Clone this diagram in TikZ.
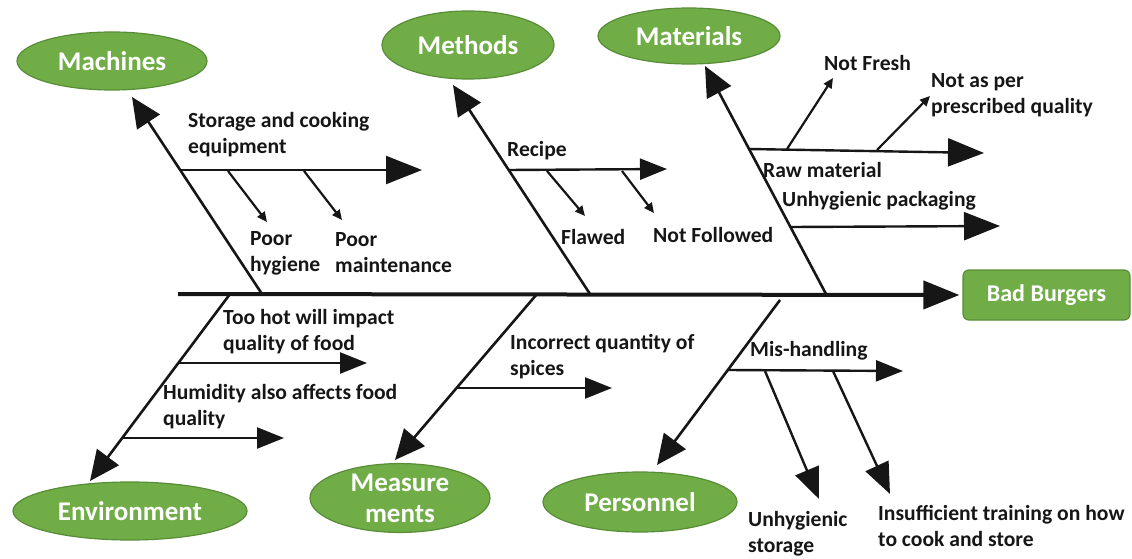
\documentclass[tikz,border=0pt]{standalone}
\usepackage{fontspec}
\setmainfont{Carlito}
\usetikzlibrary{arrows.meta,shapes.geometric}
\definecolor{leaf}{RGB}{112,173,71}
\definecolor{leafedge}{RGB}{88,140,55}
\definecolor{ink}{RGB}{22,22,22}

\tikzset{
  cat/.style={ellipse, fill=leaf, draw=leafedge, line width=1.2pt, inner sep=0pt,
    text=white, font=\fontsize{27}{31}\selectfont\bfseries},
  effect/.style={rectangle, rounded corners=6pt, fill=leaf, draw=leafedge, line width=1.2pt,
    minimum width=167pt, minimum height=50pt, inner sep=0pt,
    text=white, font=\fontsize{24}{28}\selectfont\bfseries},
  spine/.style={draw=ink, line width=4pt, -{Triangle[length=36pt,width=28pt]}},
  bone/.style={draw=ink, line width=2.6pt, -{Triangle[length=30pt,width=27pt]}},
  twig/.style={draw=ink, line width=2.4pt, -{Triangle[length=27pt,width=21pt]}},
  bigtwig/.style={draw=ink, line width=2.4pt, -{Triangle[length=36pt,width=28pt]}},
  droptwig/.style={draw=ink, line width=2.4pt, -{Triangle[length=31pt,width=25pt]}},
  sprig/.style={draw=ink, line width=2.2pt, -{Triangle[length=10pt,width=9pt]}},
  note/.style={inner sep=0pt, anchor=west, align=left, text=ink,
    font=\fontsize{21.6}{26}\selectfont\bfseries}
}

\begin{document}
\begin{tikzpicture}[x=1pt,y=-1pt]
\useasboundingbox (0,0) rectangle (1132,559);

% category ellipses and the effect box
\node[cat, minimum width=190pt, minimum height=58pt] (machines) at (112,61) {Machines};
\node[cat, minimum width=172pt, minimum height=68pt] (methods) at (468,45) {Methods};
\node[cat, minimum width=182pt, minimum height=56pt] (materials) at (689,36) {Materials};
\node[cat, minimum width=234pt, minimum height=58pt] (environment) at (130,511) {Environment};
\node[cat, minimum width=180pt, minimum height=68pt, align=center] (measurements) at (400,498) {Measure\\ments};
\node[cat, minimum width=194pt, minimum height=60pt] (personnel) at (640,502) {Personnel};
\node[effect] (burgers) at (1046.5,295) {Bad Burgers};

% spine
\coordinate (tail) at (178,294);
\draw[spine] (tail) -- ([xshift=-3pt]burgers.west);

% main bones: roots on the spine, tips under/over the ellipses
\coordinate (machRoot) at (262,294);  \coordinate (machTip) at (132,97);
\coordinate (methRoot) at (590,294);  \coordinate (methTip) at (453,85);
\coordinate (matRoot)  at (826,294);  \coordinate (matTip)  at (705,66);
\coordinate (envRoot)  at (230,294);  \coordinate (envTip)  at (90,481);
\coordinate (measRoot) at (537,294);  \coordinate (measTip) at (395,460);
\coordinate (persRoot) at (780,300);  \coordinate (persTip) at (657,465);
\draw[bone] (machRoot) -- (machTip);
\draw[bone] (methRoot) -- (methTip);
\draw[bone] (matRoot) -- (matTip);
\draw[bone] (envRoot) -- (envTip);
\draw[bone] (measRoot) -- (measTip);
\draw[bone] (persRoot) -- (persTip);

% Machines
\coordinate (machA) at (181,170); \coordinate (machAend) at (422,170);
\draw[bigtwig] (machA) -- (machAend);
\node[note] (storage) at (188,135) {Storage and cooking\\equipment};
\coordinate (machA1) at (228,171); \coordinate (machA1end) at (267,222);
\coordinate (machA2) at (304,171); \coordinate (machA2end) at (342,220);
\draw[sprig] (machA1) -- (machA1end);
\draw[sprig] (machA2) -- (machA2end);
\node[note] (hygiene) at (250,253) {Poor\\hygiene};
\node[note] (maint) at (335,253) {Poor\\maintenance};

% Methods
\coordinate (methA) at (508,170); \coordinate (methAend) at (667,169);
\draw[twig] (methA) -- (methAend);
\node[note] (recipe) at (507,151) {Recipe};
\coordinate (methA1) at (547,171); \coordinate (methA1end) at (585,216);
\coordinate (methA2) at (622,171); \coordinate (methA2end) at (654,213);
\draw[sprig] (methA1) -- (methA1end);
\draw[sprig] (methA2) -- (methA2end);
\node[note] (flawed) at (561,237) {Flawed};
\node[note] (notfollowed) at (653,235) {Not Followed};

% Materials
\coordinate (matA) at (749,149); \coordinate (matAend) at (984,153);
\draw[bigtwig] (matA) -- (matAend);
\coordinate (matA1) at (787,149); \coordinate (matA1end) at (833,78);
\coordinate (matA2) at (877,150); \coordinate (matA2end) at (930,96);
\draw[sprig] (matA1) -- (matA1end);
\draw[sprig] (matA2) -- (matA2end);
\node[note] (notfresh) at (824,63) {Not Fresh};
\node[note] (prescribed) at (931,95) {Not as per\\prescribed quality};
\node[note] (raw) at (763,170) {Raw material};
\coordinate (matB) at (791,227); \coordinate (matBend) at (1000,226);
\draw[bigtwig] (matB) -- (matBend);
\node[note] (packaging) at (782,201) {Unhygienic packaging};

% Environment
\coordinate (envA) at (178,363); \coordinate (envAend) at (367,363);
\draw[twig] (envA) -- (envAend);
\node[note] (toohot) at (223,332) {Too hot will impact\\quality of food};
\coordinate (envB) at (122,438); \coordinate (envBend) at (284,438);
\draw[twig] (envB) -- (envBend);
\node[note] (humidity) at (163,407) {Humidity also affects food\\quality};

% Measurements
\coordinate (measA) at (457,388); \coordinate (measAend) at (612,388);
\draw[twig] (measA) -- (measAend);
\node[note] (spices) at (510,357) {Incorrect quantity of\\spices};

% Personnel
\coordinate (persA) at (728,370); \coordinate (persAend) at (903,371);
\draw[twig] (persA) -- (persAend);
\node[note] (mishandling) at (750,351) {Mis-handling};
\coordinate (persA1) at (765,371); \coordinate (persA1end) at (819,499);
\coordinate (persA2) at (833,371); \coordinate (persA2end) at (890,494);
\draw[droptwig] (persA1) -- (persA1end);
\draw[droptwig] (persA2) -- (persA2end);
\node[note] (storage2) at (748,534) {Unhygienic\\storage};
\node[note] (training) at (878,526) {Insufficient training on how\\to cook and store};

\end{tikzpicture}
\end{document}
